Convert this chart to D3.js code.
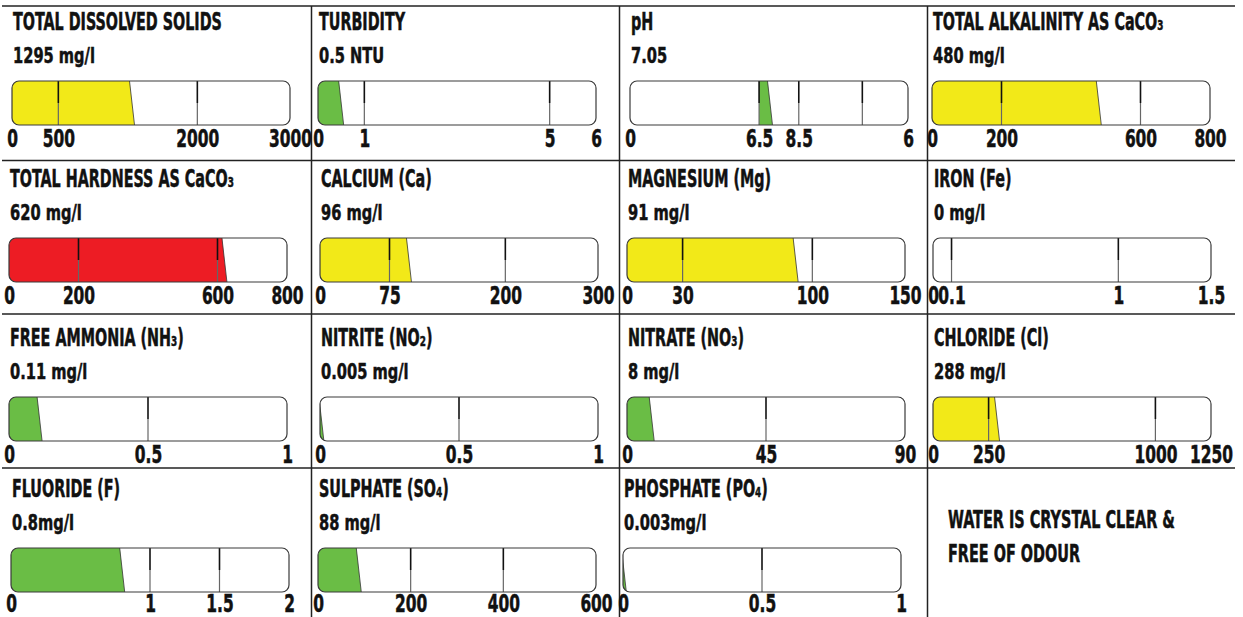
<!DOCTYPE html>
<html><head><meta charset="utf-8">
<script src="https://cdn.jsdelivr.net/npm/d3@7"></script>
<style>
body{margin:0;background:#fff}
svg{display:block}
text{font-family:"Liberation Sans Narrow","DejaVu Sans Condensed","Roboto Condensed",sans-serif;font-weight:bold;fill:#111;stroke:#111;stroke-width:0.5px}
</style></head><body>
<svg id="c" width="1243" height="617"></svg>
<script>
// ---------- data ----------
const titles = ["TOTAL DISSOLVED SOLIDS","TURBIDITY","pH","TOTAL ALKALINITY AS CaCO_3",
  "TOTAL HARDNESS AS CaCO_3","CALCIUM (Ca)","MAGNESIUM (Mg)","IRON (Fe)",
  "FREE AMMONIA (NH_3)","NITRITE (NO_2)","NITRATE (NO_3)","CHLORIDE (Cl)",
  "FLUORIDE (F)","SULPHATE (SO_4)","PHOSPHATE (PO_4)"];
const valueText = ["1295 mg/l","0.5 NTU","7.05","480 mg/l","620 mg/l","96 mg/l","91 mg/l","0 mg/l",
  "0.11 mg/l","0.005 mg/l","8 mg/l","288 mg/l","0.8mg/l","88 mg/l","0.003mg/l"];
const readings = [1295,0.5,7.05,480,620,96,91,0,0.11,0.005,8,288,0.8,88,0.003];
const rangeStart = [0,0,6.5,0,0,0,0,0,0,0,0,0,0,0,0];
const scaleMax = [3000,6,14,800,800,300,150,1.5,1,1,90,1250,2,600,1];
const dividers = [[500,2000],[1,5],[6.5,8.5,11.7],[200,600],[200,600],[75,200],[30,100],[0.1,1],
  [0.5],[0.5],[45],[250,1000],[1,1.5],[200,400],[0.5]];
const tickVals = [[0,500,2000,3000],[0,1,5,6],[0,6.5,8.5,14],[0,200,600,800],[0,200,600,800],
  [0,75,200,300],[0,30,100,150],[0,0.1,1,1.5],[0,0.5,1],[0,0.5,1],[0,45,90],[0,250,1000,1250],
  [0,1,1.5,2],[0,200,400,600],[0,0.5,1]];
const tickLabels = [["0","500","2000","3000"],["0","1","5","6"],["0","6.5","8.5","6"],["0","200","600","800"],
  ["0","200","600","800"],["0","75","200","300"],["0","30","100","150"],["0","0.1","1","1.5"],
  ["0","0.5","1"],["0","0.5","1"],["0","45","90"],["0","250","1000","1250"],
  ["0","1","1.5","2"],["0","200","400","600"],["0","0.5","1"]];
const levels = ["warn","ok","ok","warn","bad","warn","warn","ok","ok","ok","ok","warn","ok","ok","ok"];
const noteLines = ["WATER IS CRYSTAL CLEAR &","FREE OF ODOUR"];

// ---------- layout ----------
const colors = {ok:"#6abd45", warn:"#f2e918", bad:"#ed1c24"};
const colLeft = [3,311,619,927];
const gridY = [6,160.5,314,468];
const barY = [81,238,397,548];
const tickDy = [22,22,22,20];
const barOff = [9,7,11,5, 6,9,8,6, 6,9,8,6, 8,7,4];
const barW = 278, barH = 44;

const svg = d3.select("#c");
const defs = svg.append("defs");

// grid
const grid = svg.append("g").attr("stroke","#222").attr("stroke-width",1.5);
gridY.forEach(y=>grid.append("line").attr("x1",2).attr("x2",1235).attr("y1",y).attr("y2",y));
colLeft.slice(1).forEach(x=>grid.append("line").attr("x1",x+0.5).attr("x2",x+0.5).attr("y1",6).attr("y2",617));

function addLabel(sel, str){
  const parts = str.split(/_(\d)/);
  parts.forEach((p,k)=>{
    if(!p) return;
    const t = sel.append("tspan").text(p);
    if(k%2===1) t.style("font-size","62%");
  });
}

const titleNodes=[], valueNodes=[], tickNodes=[];
titles.forEach((title,i)=>{
  const col=i%4, row=Math.floor(i/4);
  const x0 = colLeft[col]+barOff[i], by = barY[row];
  const g = svg.append("g");
  const tg = g.append("g").attr("transform",`translate(${x0+1},${by-51})`);
  const tt = tg.append("text").style("font-size","24px");
  addLabel(tt,title);
  titleNodes.push(tg);
  const vg = g.append("g").attr("transform",`translate(${x0+1},${by-18})`);
  vg.append("text").style("font-size","22px").text(valueText[i]);
  valueNodes.push(vg);

  const x = d3.scaleLinear().domain([0,scaleMax[i]]).range([x0,x0+barW]);
  const cid = "clip"+i;
  defs.append("clipPath").attr("id",cid).append("rect")
    .attr("x",x0).attr("y",by).attr("width",barW).attr("height",barH).attr("rx",7);
  g.append("rect").attr("x",x0).attr("y",by).attr("width",barW).attr("height",barH).attr("rx",7)
    .attr("fill","#fff");
  const fg = g.append("g").attr("clip-path",`url(#${cid})`);
  if(readings[i]>0){
    const xs = x(rangeStart[i]), xe = x(readings[i]);
    const pts = [[xs,by-1],[xe-2.5,by-1],[xe+2.5,by+barH+1],[xs,by+barH+1]];
    fg.append("path").attr("d",d3.line()(pts)+"Z").attr("fill",colors[levels[i]]);
    fg.append("line").attr("x1",xe-2.5).attr("y1",by).attr("x2",xe+2.5).attr("y2",by+barH)
      .attr("stroke","#333").attr("stroke-width",0.8);
  }
  dividers[i].forEach(d=>{
    fg.append("line").attr("x1",x(d)).attr("x2",x(d)).attr("y1",by).attr("y2",by+barH*0.5)
      .attr("stroke","#111").attr("stroke-width",1.6);
    fg.append("line").attr("x1",x(d)).attr("x2",x(d)).attr("y1",by+barH*0.5).attr("y2",by+barH)
      .attr("stroke","#666").attr("stroke-width",1.2);
  });
  g.append("rect").attr("x",x0).attr("y",by).attr("width",barW).attr("height",barH).attr("rx",7)
    .attr("fill","none").attr("stroke","#3a3a3a").attr("stroke-width",1.2);

  const ax = g.append("g").attr("transform",`translate(0,${by+barH})`)
    .call(d3.axisBottom(x).tickValues(tickVals[i]).tickSize(0)
      .tickFormat((d,k)=>tickLabels[i][k]));
  ax.select(".domain").remove();
  ax.selectAll("text").attr("y",tickDy[row]).attr("dy",null)
    .attr("font-family",null).attr("font-size",null).style("font-size","24px").attr("fill","#111");
  ax.selectAll("text").each(function(){tickNodes.push(d3.select(this));});
});

// note cell
const noteNodes = noteLines.map((s,k)=>{
  const ng = svg.append("g").attr("transform",`translate(948,${528+k*34})`);
  ng.append("text").style("font-size","24px").text(s);
  return ng;
});

// condense text to match the reference's narrow display face
function w(g){return g.select("text").node().getComputedTextLength();}
const fT = 209 / w(titleNodes[0]);
titleNodes.forEach(g=>g.attr("transform",g.attr("transform")+` scale(${fT},1)`));
const fN = 227 / w(noteNodes[0]);
noteNodes.forEach(g=>g.attr("transform",g.attr("transform")+` scale(${fN},1)`));
const fV = 82 / w(valueNodes[0]);
valueNodes.forEach(g=>g.attr("transform",g.attr("transform")+` scale(${fV},1)`));
const t3000 = tickNodes.find(t=>t.text()==="3000");
const fK = 43 / t3000.node().getComputedTextLength();
tickNodes.forEach(t=>t.attr("transform",`scale(${fK},1)`));
</script>
</body></html>
